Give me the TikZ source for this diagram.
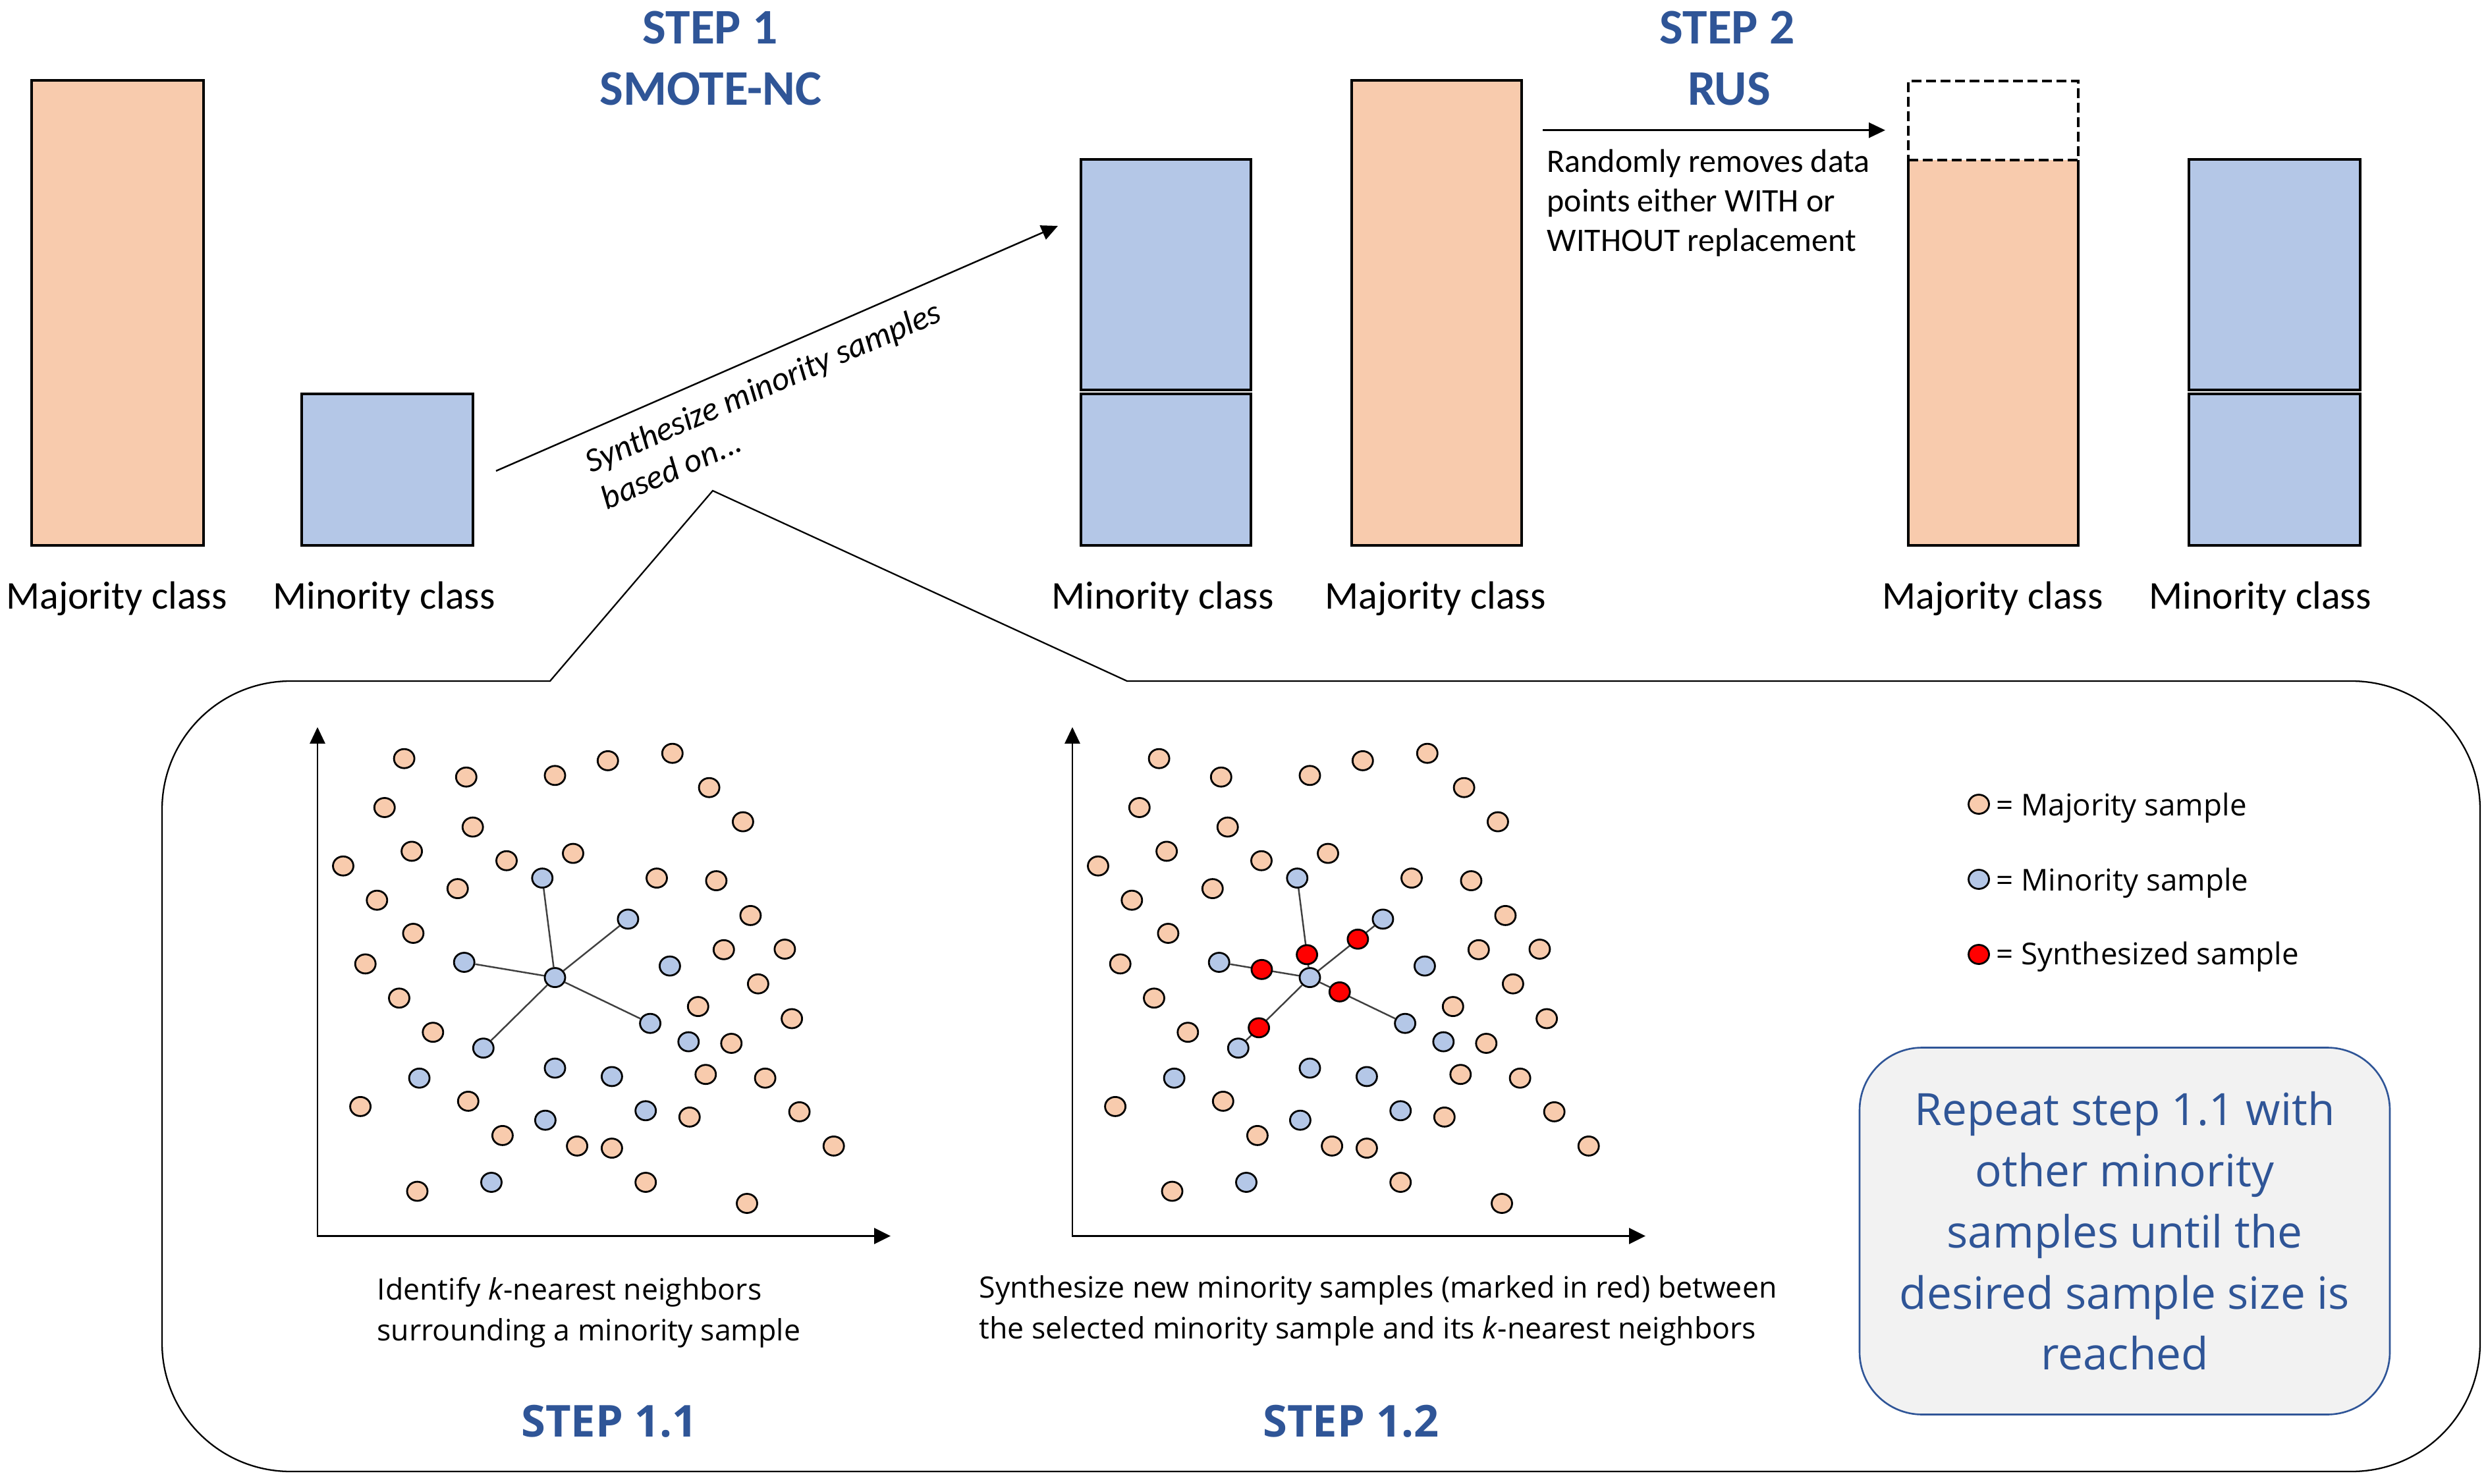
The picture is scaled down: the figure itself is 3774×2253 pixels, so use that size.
\documentclass[tikz,border=0pt]{standalone}
\usepackage{fontspec}
\setmainfont{Carlito}
\newfontfamily\osans{Open Sans}
\usetikzlibrary{arrows.meta,calc,shapes.geometric}
\definecolor{majfill}{HTML}{F8CBAD}
\definecolor{minfill}{HTML}{B4C7E7}
\definecolor{stepblue}{HTML}{2F5597}
\definecolor{boxfill}{HTML}{F2F2F2}
\definecolor{synred}{HTML}{FF0000}

\newcommand\drawplot[2]{%
  \begin{scope}[shift={(#2,1876.5)}]
    \coordinate (#1-o) at (0,0);
    \coordinate (#1-yt) at (0,-772.6);
    \coordinate (#1-xt) at (870,0);
    \draw[plotaxis] (#1-yt) -- (#1-o) -- (#1-xt);
    \foreach \px/\py [count=\i] in {131.6/-724.8, 225.8/-696.8, 360.5/-699.2, 440.8/-721.6, 538.8/-732.8, 594.6/-680.8, 645.9/-628.9, 101.8/-650.5, 235.7/-620.9, 143.1/-584.1, 39.0/-561.8, 287.0/-569.8, 388.0/-580.9, 212.8/-527.4, 90.3/-509.8, 515.0/-543.4, 605.4/-539.4, 657.4/-486.6, 145.4/-459.5, 616.8/-434.7, 709.4/-435.5, 72.7/-413.1, 668.9/-382.8, 124.0/-361.2, 577.8/-348.4, 720.1/-330.0, 175.3/-309.3, 628.3/-292.5, 589.3/-245.3, 679.6/-239.7, 65.1/-196.6, 228.8/-204.6, 564.8/-180.6, 731.6/-188.6, 280.9/-152.6, 394.1/-136.6, 446.9/-133.4, 783.7/-136.6, 151.5/-67.9, 498.2/-81.5, 652.0/-49.5}
      \node[majdot] (#1-m\i) at (\px,\py) {};
    \foreach \px/\py [count=\i] in {341.3/-543.4, 471.4/-481.1, 222.7/-415.5, 360.5/-392.4, 534.9/-409.9, 505.1/-322.8, 251.8/-285.3, 563.3/-294.9, 154.6/-239.7, 360.5/-254.9, 446.9/-242.1, 498.2/-190.2, 345.9/-175.8, 264.0/-81.5}
      \node[mindot] (#1-b\i) at (\px,\py) {};
    \foreach \n in {1,2,3,6,7}
      \draw[nnline] (#1-b4) -- (#1-b\n);
  \end{scope}}

\begin{document}
\begin{tikzpicture}[x=0.1mm,y=-0.1mm,
  classbar/.style={draw, line width=0.9pt, inner sep=0pt, outer sep=0pt, anchor=north west},
  majbar/.style={classbar, fill=majfill},
  minbar/.style={classbar, fill=minfill},
  classlabel/.style={font=\fontsize{17}{20}\selectfont, anchor=base, inner sep=0pt},
  steptitle/.style={font=\bfseries\fontsize{21.5}{26}\selectfont, text=stepblue, anchor=base, inner sep=0pt},
  substep/.style={font=\osans\bfseries\fontsize{19}{23}\selectfont, text=stepblue, anchor=base, inner sep=0pt},
  sampledot/.style={ellipse, draw, line width=0.8pt, minimum width=3.1mm, minimum height=2.9mm, inner sep=0pt},
  majdot/.style={sampledot, fill=majfill},
  mindot/.style={sampledot, fill=minfill},
  syndot/.style={sampledot, fill=synred},
  nnline/.style={line width=0.7pt, draw=black!75},
  plotaxis/.style={line width=0.8pt, {Triangle[length=2.5mm,width=2.3mm]}-{Triangle[length=2.5mm,width=2.4mm]}},
  flowarrow/.style={line width=0.8pt, -{Triangle[length=2.5mm,width=2.3mm]}},
  smalltext/.style={font=\osans\fontsize{12.7}{17.4}\selectfont, align=left, anchor=base west, inner sep=0pt},
  legendtext/.style={font=\osans\fontsize{13}{16}\selectfont, anchor=base west, inner sep=0pt}
]
\useasboundingbox (0,0) rectangle (3774,2253);

% ---------- top row bars ----------
\node[majbar, minimum width=26.1mm, minimum height=70.6mm] (majL) at (48,122) {};
\node[minbar, minimum width=26.0mm, minimum height=23.0mm] (minL) at (458,598) {};
\node[minbar, minimum width=25.8mm, minimum height=35.0mm] (minMt) at (1641,242) {};
\node[minbar, minimum width=25.8mm, minimum height=23.0mm] (minMb) at (1641,598) {};
\node[majbar, minimum width=25.8mm, minimum height=70.6mm] (majM) at (2052,122) {};
\node[classbar, draw=none, fill=majfill, minimum width=25.8mm, minimum height=58.5mm] (majR) at (2897,243) {};
\draw[line width=0.9pt] (majR.north west) -- (majR.south west) -- (majR.south east) -- (majR.north east);
\node[classbar, dash pattern=on 1.5mm off 0.7mm, minimum width=25.8mm, minimum height=12.0mm] (removed) at (2897,123) {};
\node[minbar, minimum width=26.0mm, minimum height=35.0mm] (minRt) at (3323,242) {};
\node[minbar, minimum width=26.0mm, minimum height=23.0mm] (minRb) at (3323,598) {};

% ---------- class labels ----------
\node[classlabel] (lab1) at (177,925) {Majority class};
\node[classlabel] (lab2) at (583,925) {Minority class};
\node[classlabel] (lab3) at (1765,925) {Minority class};
\node[classlabel] (lab4) at (2179,925) {Majority class};
\node[classlabel] (lab5) at (3025,925) {Majority class};
\node[classlabel] (lab6) at (3431,925) {Minority class};

% ---------- step titles ----------
\node[steptitle] (s1a) at (1078,67) {STEP 1};
\node[steptitle] (s1b) at (1079,159.5) {SMOTE-NC};
\node[steptitle] (s2a) at (2622,67) {STEP 2};
\node[steptitle] (s2b) at (2625,159.5) {RUS};

% ---------- arrows ----------
\coordinate (synA) at (753,715);
\coordinate (synB) at (1606,343);
\draw[flowarrow, line width=0.7pt] (synA) -- (synB);
\node[font=\itshape\fontsize{14.6}{17.2}\selectfont, align=left, rotate=23.5, inner sep=0pt] (syntext) at (1170,614) {Synthesize minority samples\\based on...};

\coordinate (rusA) at (2342,197.7);
\coordinate (rusB) at (2862,197.7);
\draw[flowarrow, line width=0.9pt] (rusA) -- (rusB);
\node[font=\fontsize{14.2}{17.2}\selectfont, align=left, anchor=base west, inner sep=0pt] (rustext) at (2348,382) {Randomly removes data\\points either WITH or\\WITHOUT replacement};

% ---------- callout panel ----------
\coordinate (cnL) at (835,1034);
\coordinate (capex) at (1082,745);
\coordinate (cnR) at (1711,1034);
\draw[line width=0.65pt] (cnR) -- (3570,1034) .. controls (3677.7,1034) and (3765,1121.3) .. (3765,1229)
  -- (3765,2039) .. controls (3765,2146.7) and (3677.7,2234) .. (3570,2234)
  -- (441,2234) .. controls (333.3,2234) and (246,2146.7) .. (246,2039)
  -- (246,1229) .. controls (246,1121.3) and (333.3,1034) .. (441,1034)
  -- (cnL) -- (capex) -- cycle;

% ---------- scatter plots ----------
\drawplot{A}{482}
\drawplot{B}{1628}
\node[syndot] (r1) at ($(B-b4)!0.23!(B-b1)$) {};
\node[syndot] (r2) at ($(B-b4)!0.657!(B-b2)$) {};
\node[syndot] (r3) at ($(B-b4)!0.53!(B-b3)$) {};
\node[syndot] (r4) at ($(B-b4)!0.313!(B-b6)$) {};
\node[syndot] (r5) at ($(B-b4)!0.712!(B-b7)$) {};

\node[smalltext] (t11) at (572,2035) {Identify \textit{k}-nearest neighbors\\surrounding a minority sample};
\node[smalltext] (t12) at (1486,2032) {Synthesize new minority samples (marked in red) between\\the selected minority sample and its \textit{k}-nearest neighbors};
\node[substep] (h11) at (925,2181) {STEP 1.1};
\node[substep] (h12) at (2051,2181) {STEP 1.2};

% ---------- legend ----------
\node[majdot] (leg1) at (3004,1221) {};
\node[mindot] (leg2) at (3004,1335) {};
\node[syndot] (leg3) at (3004,1449) {};
\node[legendtext] (legt1) at (3030,1238) {= Majority sample};
\node[legendtext] (legt2) at (3030,1352) {= Minority sample};
\node[legendtext] (legt3) at (3030,1464) {= Synthesized sample};

% ---------- repeat box ----------
\node[draw=stepblue, line width=0.75pt, fill=boxfill, rounded corners=9.5mm,
      minimum width=80.5mm, minimum height=55.7mm, inner sep=0pt, align=center,
      text=stepblue, font=\osans\fontsize{19.2}{26.4}\selectfont] (repeat) at (3225.5,1869)
  {Repeat step 1.1 with\\other minority\\samples until the\\desired sample size is\\reached};
\end{tikzpicture}
\end{document}
